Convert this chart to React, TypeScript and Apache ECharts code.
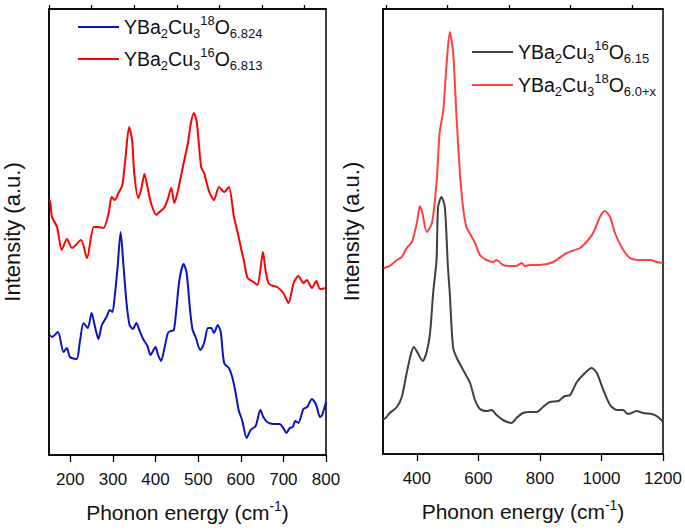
import React, { useEffect, useRef } from "react";
import * as echarts from "echarts";

// Left panel (x in cm^-1, relative intensity)
const leftBlueX = [152,157,171,184,192,199,215,222,231,241,250,258,266,274,285,293,299,304,311,318,325,332,339,347,355,362,371,381,388,400,406,413,420,429,436,443,448,456,466,473,481,487,494,505,514,523,531,537,546,553,561,572,580,588,595,603,614,623,635,646,653,662,677,691,700,707,715,722,728,735,747,756,767,777,786,791,800];
const leftBlueY = [120,118,123,103,107,98,96,112,132,127,142,128,116,130,138,145,143,158,188,223,188,152,130,126,132,125,116,109,100,108,100,94,105,122,124,125,142,175,191,182,145,125,118,105,112,127,127,122,130,123,92,87,78,62,45,35,17,25,29,45,38,33,31,31,27,22,27,28,34,32,46,48,56,50,38,40,53];
const leftRedX = [150,152,157,169,180,192,204,225,239,255,266,278,290,297,304,313,322,329,338,345,350,359,366,374,381,390,402,409,420,428,437,444,453,464,476,483,490,497,507,514,526,537,549,561,572,584,593,603,607,616,630,639,646,652,658,664,670,685,700,712,724,735,747,755,767,777,786,800];
const leftRedY = [255,255,238,228,205,216,207,215,197,228,228,227,242,258,255,262,270,295,328,315,282,257,265,281,268,251,240,243,247,255,267,252,265,288,312,332,342,332,288,282,263,255,268,263,268,238,222,202,195,177,173,170,185,203,185,173,170,168,162,152,172,179,172,175,167,174,166,167];

// Right panel
const rightGrayX = [290,293,312,335,351,367,380,390,403,419,432,443,453,464,469,480,491,501,507,518,533,556,573,589,605,627,643,659,680,708,724,745,767,789,810,832,860,881,898,920,940,968,985,1006,1028,1050,1070,1086,1115,1135,1164,1184,1200];
const rightGrayY = [36,35,41,47,57,81,99,107,101,93,102,121,161,194,247,257,247,187,161,106,94,81,71,54,45,43,44,39,34,31,36,41,42,42,47,52,53,58,59,72,79,86,81,64,49,44,44,40,43,41,40,37,32];
const rightRedX = [292,302,312,335,351,367,384,400,410,418,432,449,464,474,486,496,507,518,529,540,550,561,575,589,605,627,648,659,680,702,724,741,751,767,800,843,887,930,951,973,995,1011,1028,1044,1067,1093,1125,1158,1180,1200];
const rightRedY = [186,187,188,194,197,206,212,231,248,241,222,231,271,321,344,387,422,401,337,281,247,227,219,211,199,194,192,194,189,188,188,191,188,189,189,192,201,206,212,221,237,243,237,221,206,196,194,194,192,191];

const leftTicks = [200, 300, 400, 500, 600, 700, 800];
const leftMinor = [150, 250, 350, 450, 550, 650, 750];
const rightTicks = [400, 600, 800, 1000, 1200];
const rightMinor = [300, 500, 700, 900, 1100];

const nameL1 = "YBa2Cu318O6.824";
const nameL2 = "YBa2Cu316O6.813";
const nameR1 = "YBa2Cu316O6.15";
const nameR2 = "YBa2Cu318O6.0+x";
const richNames: Record<string, string> = {
  [nameL1]: "{b|YBa}{sub|2}{b|Cu}{sub|3}{sup|18}{b|O}{sub|6.824}",
  [nameL2]: "{b|YBa}{sub|2}{b|Cu}{sub|3}{sup|16}{b|O}{sub|6.813}",
  [nameR1]: "{b|YBa}{sub|2}{b|Cu}{sub|3}{sup|16}{b|O}{sub|6.15}",
  [nameR2]: "{b|YBa}{sub|2}{b|Cu}{sub|3}{sup|18}{b|O}{sub|6.0+x}",
};

const zip = (xs: number[], ys: number[]) => xs.map((x, i) => [x, ys[i]]);

const FONT = "Liberation Sans, Arial, sans-serif";

export default function App() {
  const ref = useRef<HTMLDivElement>(null);
  useEffect(() => {
    if (!ref.current) return;
    const chart = echarts.init(ref.current, null, { renderer: "svg" });
    const rich = {
      b: { fontSize: 19.5, fontFamily: FONT, color: "#111", lineHeight: 26, verticalAlign: "middle" },
      sub: { fontSize: 13, fontFamily: FONT, color: "#111", lineHeight: 14, verticalAlign: "bottom" },
      sup: { fontSize: 13, fontFamily: FONT, color: "#111", lineHeight: 14, verticalAlign: "top" },
    };
    const nameRich = {
      n: { fontSize: 21, fontFamily: FONT, color: "#111", lineHeight: 26, verticalAlign: "middle" },
      s: { fontSize: 14, fontFamily: FONT, color: "#111", lineHeight: 14, verticalAlign: "top" },
    };
    const xName = "{n|Phonon energy (cm}{s|-1}{n|)}";
    const baseX = (gi: number, min: number, max: number, ticks: number[], withName: boolean, len: number) => ({
      type: "value",
      gridIndex: gi,
      min,
      max,
      name: withName ? xName : "",
      nameLocation: "middle",
      nameGap: 44,
      nameTextStyle: { rich: nameRich },
      axisLine: { show: true, lineStyle: { color: "#000", width: 1.5 } },
      axisTick: { show: true, inside: false, length: len, customValues: ticks, lineStyle: { color: "#000", width: 1.3 } },
      axisLabel: withName
        ? { show: true, customValues: ticks, fontSize: 17, fontFamily: FONT, color: "#111", margin: 16, formatter: (v: number) => String(v) }
        : { show: false },
      splitLine: { show: false },
    });
    const baseY = (gi: number, max: number, gap: number) => ({
      type: "value",
      gridIndex: gi,
      min: 0,
      max,
      name: "Intensity (a.u.)",
      nameLocation: "middle",
      nameGap: gap,
      nameTextStyle: { fontSize: 22, fontFamily: FONT, color: "#111" },
      axisLine: { show: true, lineStyle: { color: "#000", width: 1.5 } },
      axisTick: { show: false },
      axisLabel: { show: false },
      splitLine: { show: false },
    });
    const lineSeries = (name: string, data: number[][], color: string, xi: number, yi: number) => ({
      type: "line",
      name,
      data,
      xAxisIndex: xi,
      yAxisIndex: yi,
      symbol: "none",
      smooth: 0.25,
      lineStyle: { color, width: 2 },
      itemStyle: { color },
    });
    chart.setOption({
      animation: false,
      backgroundColor: "#fff",
      grid: [
        { left: 47, top: 9, width: 279, height: 446, show: true, borderColor: "#000", borderWidth: 1.5 },
        { left: 383, top: 9, width: 280, height: 445, show: true, borderColor: "#000", borderWidth: 1.5 },
      ],
      xAxis: [
        baseX(0, 150, 800, leftTicks, true, 7),
        baseX(0, 150, 800, leftMinor, false, 4),
        baseX(1, 290, 1200, rightTicks, true, 7),
        baseX(1, 290, 1200, rightMinor, false, 4),
      ],
      yAxis: [baseY(0, 446, 26), baseY(1, 445, 21)],
      legend: [
        {
          data: [nameL1, nameL2],
          orient: "vertical",
          left: 73,
          top: 9,
          icon: "rect",
          itemWidth: 41,
          itemHeight: 2,
          itemGap: 6,
          formatter: (n: string) => richNames[n],
          textStyle: { rich },
        },
        {
          data: [nameR1, nameR2],
          orient: "vertical",
          left: 467,
          top: 34,
          icon: "rect",
          itemWidth: 41,
          itemHeight: 2,
          itemGap: 7,
          formatter: (n: string) => richNames[n],
          textStyle: { rich },
        },
      ],
      series: [
        lineSeries(nameL1, zip(leftBlueX, leftBlueY), "#0a14c4", 0, 0),
        lineSeries(nameL2, zip(leftRedX, leftRedY), "#ff0000", 0, 0),
        lineSeries(nameR1, zip(rightGrayX, rightGrayY), "#3f3f3f", 2, 1),
        lineSeries(nameR2, zip(rightRedX, rightRedY), "#ff4040", 2, 1),
      ],
    });
    return () => chart.dispose();
  }, []);
  return <div ref={ref} style={{ position: "absolute", left: 0, top: 0, width: 685, height: 530 }} />;
}
